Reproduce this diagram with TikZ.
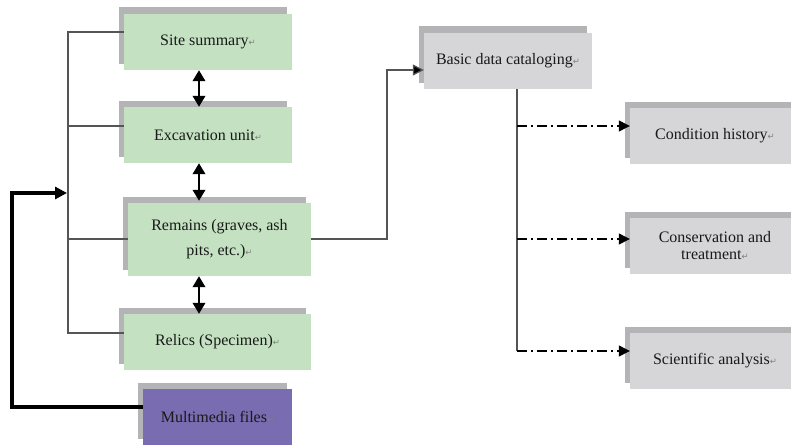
\documentclass[tikz,border=0pt]{standalone}
\usepackage{fontspec}
\setmainfont{Liberation Serif}
\newfontfamily\dejavu{DejaVu Sans}
\usetikzlibrary{arrows.meta,shadows,calc}
\definecolor{boxgreen}{RGB}{196,226,194}
\definecolor{boxgray}{RGB}{214,214,216}
\definecolor{shadowgray}{RGB}{180,180,182}
\definecolor{boxpurple}{RGB}{121,108,176}
\definecolor{linegray}{RGB}{85,85,85}
\definecolor{textdark}{RGB}{25,25,25}
\newcommand\retmark{{\dejavu\fontsize{8.5}{8.5}\selectfont\textcolor{gray}{↵}}}
\begin{document}
\begin{tikzpicture}[x=1pt,y=-1pt,
  card/.style={inner sep=0pt, align=center, text=textdark,
    font=\fontsize{16}{25}\selectfont,
    general shadow={fill=shadowgray, shadow xshift=-5pt, shadow yshift=6.5pt}},
  greencard/.style={card, fill=boxgreen},
  graycard/.style={card, fill=boxgray},
  purplecard/.style={card, fill=boxpurple},
  bracket/.style={draw=linegray, line width=1.1pt},
  fatarrow/.style={draw=black, line width=3.4pt, -{Triangle[length=12pt,width=12pt]}},
  dblarrow/.style={draw=black, line width=2pt, {Triangle[length=11pt,width=12.5pt]}-{Triangle[length=11pt,width=12.5pt]}},
  thinarrow/.style={draw=linegray, line width=1.2pt, -{Triangle[length=11pt,width=11pt,fill=black]}},
  dasharrow/.style={draw=black, line width=1.2pt, dash pattern=on 10pt off 4pt on 2pt off 4pt, -{Triangle[length=11pt,width=11pt]}},
  stem/.style={draw=linegray, line width=1.2pt}]
\useasboundingbox (0,0) rectangle (791,444);
\clip (0,0) rectangle (791,444);

% left column
\node[greencard, minimum width=168pt, minimum height=56pt] (site) at (208,42) {Site summary\retmark};
\node[greencard, minimum width=168pt, minimum height=56pt] (exc) at (208,135) {Excavation unit\retmark};
\node[greencard, minimum width=183pt, minimum height=73pt] (rem) at (219.5,239.5) {Remains (graves, ash\\ pits, etc.)\retmark};
\node[greencard, minimum width=187pt, minimum height=56pt] (rel) at (217.5,342) {Relics (Specimen)\retmark};
\node[purplecard, minimum width=149pt, minimum height=56pt] (mm) at (217.5,417) {Multimedia files\retmark};

% right part
\node[graycard, minimum width=168pt, minimum height=56pt] (basic) at (508,61) {Basic data cataloging\retmark};
\node[graycard, minimum width=170pt, minimum height=56pt] (cond) at (715,136) {Condition history\retmark};
\node[graycard, minimum width=170pt, minimum height=56pt, font=\fontsize{16}{17}\selectfont] (cons) at (715,246) {Conservation and\\ treatment\retmark};
\node[graycard, minimum width=170pt, minimum height=56pt] (sci) at (715,361) {Scientific analysis\retmark};

% left bracket
\coordinate (b1) at (68,32);
\coordinate (b2) at (68,126);
\coordinate (b3) at (68,239);
\coordinate (b4) at (68,333);
\draw[bracket] (site.west |- b1) -- (b1) -- (b4) -- (rel.west |- b4);
\draw[bracket] (b2) -- (exc.west |- b2);
\draw[bracket] (b3) -- (rem.west |- b3);

% multimedia feedback arrow
\coordinate (m1) at (12,407);
\coordinate (m2) at (12,193);
\coordinate (m3) at (67,193);
\draw[fatarrow] (mm.west |- m1) -- (m1) -- (m2) -- (m3);

% double arrows
\coordinate (ax) at (199,0);
\draw[dblarrow] (site.south -| ax) -- (exc.north -| ax);
\draw[dblarrow] (exc.south -| ax) -- ($(rem.north -| ax)+(0,-2)$);
\draw[dblarrow] (rem.south -| ax) -- (rel.north -| ax);

% remains to basic data
\coordinate (r1) at (387,239);
\coordinate (r2) at (387,70);
\draw[thinarrow] (rem.east |- r1) -- (r1) -- (r2) -- (basic.west |- r2);

% basic data branches
\coordinate (vx) at (517,0);
\coordinate (c1) at (517,126);
\coordinate (c2) at (517,239);
\coordinate (c3) at (517,351);
\draw[stem] (basic.south -| vx) -- (c3);
\draw[dasharrow] (c1) -- (cond.west |- c1);
\draw[dasharrow] (c2) -- (cons.west |- c2);
\draw[dasharrow] (c3) -- (sci.west |- c3);
\end{tikzpicture}
\end{document}
